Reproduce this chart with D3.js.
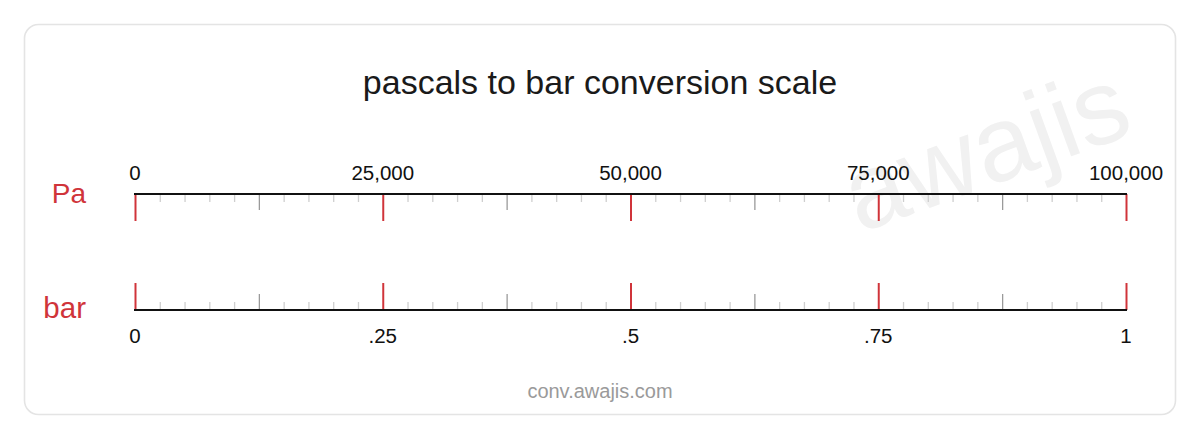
<!DOCTYPE html>
<html>
<head>
<meta charset="utf-8">
<script src="https://cdn.jsdelivr.net/npm/d3@7"></script>
<style>
  body { margin: 0; background: #fff; }
  svg text { font-family: "Liberation Sans", Arial, sans-serif; }
  .axis .domain { display: none; }
  .major line { stroke: #d0343a; stroke-width: 2; }
  .mid line { stroke: #9a9a9a; stroke-width: 1.3; }
  .minor line { stroke: #cfcfcf; stroke-width: 1.3; }
</style>
</head>
<body>
<svg id="chart" width="1200" height="440"></svg>
<script>
// pascals to bar: 100,000 Pa = 1 bar
var title = "pascals to bar conversion scale";
var units = ["Pa", "bar"];
var paDomain = [0, 100000];
var barDomain = [0, 1];
var paMajor = [0, 25000, 50000, 75000, 100000];
var barMajor = [0, 0.25, 0.5, 0.75, 1];
var paLabels = ["0", "25,000", "50,000", "75,000", "100,000"];
var barLabels = ["0", ".25", ".5", ".75", "1"];
var minorStep = 2500; // small ticks every 2,500 Pa
var midStep = 12500;  // grey ticks half way between majors

var svg = d3.select("#chart");

// card
svg.append("rect")
    .attr("x", 24.5)
    .attr("y", 24.5)
    .attr("width", 1151)
    .attr("height", 390)
    .attr("rx", 14)
    .attr("fill", "#fff")
    .attr("stroke", "#e4e4e4")
    .attr("stroke-width", 1.6);

// watermark
svg.append("text")
    .attr("transform", "translate(998,183) rotate(-20)")
    .attr("text-anchor", "middle")
    .attr("font-size", 106)
    .attr("fill", "#f1f1f1")
    .text("awajis");

svg.append("text")
    .attr("x", 600)
    .attr("y", 94)
    .attr("text-anchor", "middle")
    .attr("font-size", 34)
    .attr("fill", "#1a1a1a")
    .text(title);

var x = d3.scaleLinear().domain(paDomain).range([135, 1126]);
var xb = d3.scaleLinear().domain(barDomain).range([135, 1126]);

var allTicks = d3.range(paDomain[0], paDomain[1] + 1, minorStep);
var midTicks = allTicks.filter(d => d % midStep === 0 && !paMajor.includes(d));
var minorTicks = allTicks.filter(d => d % midStep !== 0);

function drawScale(y, dir) {
    // dir = 1 ticks go down, -1 ticks go up
    var axisFn = dir > 0 ? d3.axisBottom : d3.axisTop;
    var g = svg.append("g").attr("transform", "translate(0," + y + ")");
    [[minorTicks, 8, "minor"], [midTicks, 16, "mid"], [paMajor, 27, "major"]].forEach(t => {
        g.append("g")
            .attr("class", "axis " + t[2])
            .call(axisFn(x).tickValues(t[0]).tickSize(t[1]).tickFormat(""));
    });
    g.append("line")
        .attr("x1", x(paDomain[0]) - 1)
        .attr("x2", x(paDomain[1]) + 1)
        .attr("stroke", "#111")
        .attr("stroke-width", 2);
    return g;
}

var topG = drawScale(194, 1);
topG.append("g")
    .selectAll("text")
    .data(paMajor)
    .join("text")
    .attr("x", d => x(d))
    .attr("y", -14)
    .attr("text-anchor", "middle")
    .attr("font-size", 20.5)
    .attr("fill", "#111")
    .text((d, i) => paLabels[i]);

var botG = drawScale(310, -1);
botG.append("g")
    .selectAll("text")
    .data(barMajor)
    .join("text")
    .attr("x", d => xb(d))
    .attr("y", 33)
    .attr("text-anchor", "middle")
    .attr("font-size", 20.5)
    .attr("fill", "#111")
    .text((d, i) => barLabels[i]);

svg.selectAll(".unit")
    .data(units)
    .join("text")
    .attr("class", "unit")
    .attr("x", 86)
    .attr("y", (d, i) => i === 0 ? 203 : 318)
    .attr("text-anchor", "end")
    .attr("font-size", (d, i) => i === 0 ? 28 : 29.5)
    .attr("fill", "#d0343a")
    .text(d => d);

svg.append("text")
    .attr("x", 600)
    .attr("y", 398)
    .attr("text-anchor", "middle")
    .attr("font-size", 20)
    .attr("fill", "#9a9a9a")
    .text("conv.awajis.com");
</script>
</body>
</html>
